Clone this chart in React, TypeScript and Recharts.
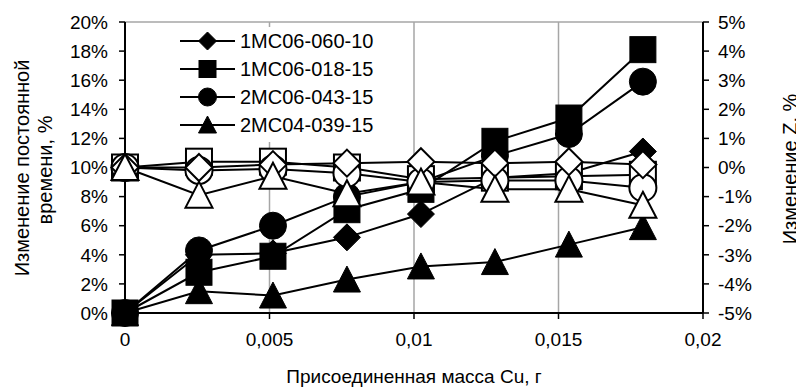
import React from "react";
import { CartesianGrid, Legend, Line, LineChart, XAxis, YAxis } from "recharts";

// attached Cu mass, g
const massCu = [0, 0.00256, 0.00512, 0.00768, 0.01024, 0.0128, 0.01536, 0.01792];

// time constant change, % (left axis, filled markers)
const tau060_10 = [0, 4.0, 4.1, 5.2, 6.8, 9.3, 9.6, 11.1];
const tau018_15 = [0, 2.8, 3.9, 7.1, 8.5, 11.8, 13.4, 18.1];
const tau043_15 = [0, 4.3, 6.0, 8.0, 9.0, 10.8, 12.3, 15.9];
const tau039_15 = [0, 1.5, 1.2, 2.3, 3.2, 3.5, 4.7, 5.9];

// Z change, % (right axis, open markers)
const z060_10 = [0, 0.0, 0.1, 0.15, 0.2, 0.15, 0.2, 0.1];
const z018_15 = [0, 0.2, 0.2, 0.0, -0.4, -0.35, -0.3, -0.25];
const z043_15 = [0, -0.1, -0.05, -0.2, -0.5, -0.45, -0.45, -0.7];
const z039_15 = [0, -0.95, -0.3, -0.9, -0.5, -0.75, -0.75, -1.3];

const seriesNames = ["1MC06-060-10", "1MC06-018-15", "2MC06-043-15", "2MC04-039-15"];
const shapes = ["diamond", "square", "circle", "triangle"];

const xTicks = [0, 0.005, 0.01, 0.015, 0.02];
const leftTicks = [0, 2, 4, 6, 8, 10, 12, 14, 16, 18, 20];
const rightTicks = [-5, -4, -3, -2, -1, 0, 1, 2, 3, 4, 5];

const data = massCu.map((m, i) => ({
  m,
  t0: tau060_10[i],
  t1: tau018_15[i],
  t2: tau043_15[i],
  t3: tau039_15[i],
  z0: z060_10[i],
  z1: z018_15[i],
  z2: z043_15[i],
  z3: z039_15[i],
}));

const FONT = "'Liberation Sans', Arial, sans-serif";

function Marker({ cx, cy, shape, open, size = 27 }: any) {
  if (cx == null || cy == null) return null;
  const h = size / 2;
  const fill = open ? "#fff" : "#000";
  const sw = open ? 2 : 1;
  if (shape === "square") {
    return <rect x={cx - h + 0.5} y={cy - h + 0.5} width={size - 1} height={size - 1} fill={fill} stroke="#000" strokeWidth={sw} />;
  }
  if (shape === "circle") {
    return <circle cx={cx} cy={cy} r={h} fill={fill} stroke="#000" strokeWidth={sw} />;
  }
  if (shape === "diamond") {
    return (
      <polygon
        points={`${cx},${cy - h} ${cx + h},${cy} ${cx},${cy + h} ${cx - h},${cy}`}
        fill={fill}
        stroke="#000"
        strokeWidth={sw}
      />
    );
  }
  return (
    <polygon
      points={`${cx},${cy - h} ${cx + h},${cy + h - 1} ${cx - h},${cy + h - 1}`}
      fill={fill}
      stroke="#000"
      strokeWidth={sw}
    />
  );
}

const dotFor = (shape: string, open: boolean) => (p: any) =>
  <Marker key={`${shape}-${open}-${p.index}`} cx={p.cx} cy={p.cy} shape={shape} open={open} />;

function LegendBox() {
  return (
    <div style={{ width: 244, height: 115, background: "#fff", fontFamily: FONT, fontSize: 20 }}>
      {seriesNames.map((name, i) => (
        <div key={name} style={{ display: "flex", alignItems: "center", height: 28 }}>
          <svg width={82} height={28} style={{ flex: "none" }}>
            <line x1={22} x2={77} y1={14} y2={14} stroke="#000" strokeWidth={2} />
            <Marker cx={49.5} cy={14} shape={shapes[i]} open={false} size={18} />
          </svg>
          <span style={{ lineHeight: "28px" }}>{name}</span>
        </div>
      ))}
    </div>
  );
}

function LeftTitle() {
  return (
    <g fontFamily={FONT} fontSize={20} fill="#000">
      <text x={14} y={160} transform="rotate(-90, 14, 160)" textAnchor="middle" dominantBaseline="central">
        Изменение постоянной
      </text>
      <text x={37} y={162} transform="rotate(-90, 37, 162)" textAnchor="middle" dominantBaseline="central">
        времени, %
      </text>
    </g>
  );
}

function RightTitle() {
  return (
    <text
      x={782}
      y={161}
      transform="rotate(-90, 782, 161)"
      textAnchor="middle"
      dominantBaseline="central"
      fontFamily={FONT}
      fontSize={20}
      fill="#000"
    >
      Изменение Z, %
    </text>
  );
}

function BottomTitle() {
  return (
    <text x={406} y={368} textAnchor="middle" dominantBaseline="central" fontFamily={FONT} fontSize={19} fill="#000">
      Присоединенная масса Cu, г
    </text>
  );
}

const tickStyle = { fontFamily: FONT, fontSize: 19, fill: "#000" };

export default function App() {
  return (
    <div style={{ width: 796, height: 381, background: "#fff" }}>
      <LineChart width={796} height={381} data={data} margin={{ top: 14, right: 0, bottom: 0, left: 0 }}>
        <CartesianGrid stroke="#a6a6a6" strokeWidth={1.5} />
        <XAxis
          type="number"
          dataKey="m"
          domain={[0, 0.02]}
          ticks={xTicks}
          interval={0}
          tickFormatter={(v: number) => String(v).replace(".", ",")}
          height={76}
          tick={tickStyle}
          tickSize={6}
          tickMargin={14}
          axisLine={{ stroke: "#000", strokeWidth: 2 }}
          tickLine={{ stroke: "#000", strokeWidth: 1.5 }}
          label={<BottomTitle />}
        />
        <YAxis
          yAxisId="tau"
          domain={[0, 20]}
          ticks={leftTicks}
          interval={0}
          tickFormatter={(v: number) => `${v}%`}
          width={117}
          tick={tickStyle}
          tickSize={6}
          tickMargin={11}
          axisLine={{ stroke: "#000", strokeWidth: 2 }}
          tickLine={{ stroke: "#000", strokeWidth: 1.5 }}
          label={<LeftTitle />}
        />
        <YAxis
          yAxisId="z"
          orientation="right"
          domain={[-5, 5]}
          ticks={rightTicks}
          interval={0}
          tickFormatter={(v: number) => `${v}%`}
          width={101}
          tick={tickStyle}
          tickSize={6}
          tickMargin={9}
          axisLine={{ stroke: "#000", strokeWidth: 2 }}
          tickLine={{ stroke: "#000", strokeWidth: 1.5 }}
          label={<RightTitle />}
        />
        <Legend
          layout="vertical"
          align="center"
          verticalAlign="middle"
          content={<LegendBox />}
          wrapperStyle={{ left: 150, top: 19, width: 244 }}
        />
        {shapes.map((s, i) => (
          <Line
            key={`t${i}`}
            yAxisId="tau"
            dataKey={`t${i}`}
            name={seriesNames[i]}
            stroke="#000"
            strokeWidth={2}
            dot={dotFor(s, false)}
            activeDot={false}
            isAnimationActive={false}
          />
        ))}
        {[1, 2, 0, 3].map((i) => (
          <Line
            key={`z${i}`}
            yAxisId="z"
            dataKey={`z${i}`}
            legendType="none"
            stroke="#000"
            strokeWidth={2}
            dot={dotFor(shapes[i], true)}
            activeDot={false}
            isAnimationActive={false}
          />
        ))}
      </LineChart>
    </div>
  );
}
